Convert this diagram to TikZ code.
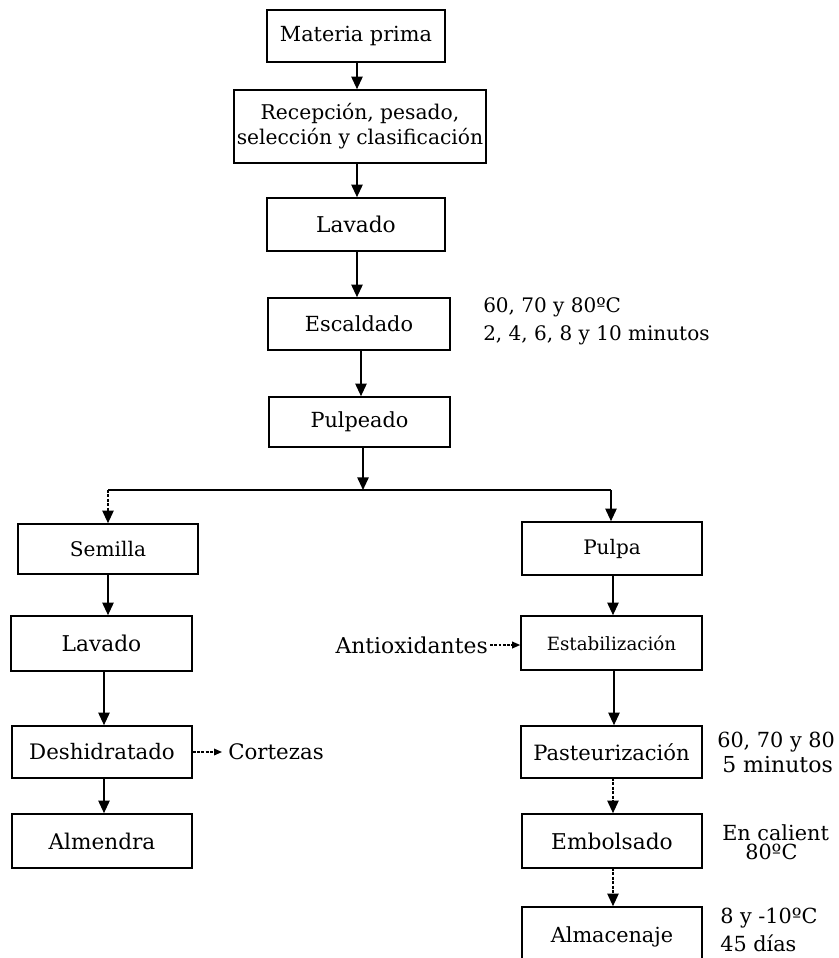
\documentclass[tikz,border=0pt]{standalone}
\usepackage{fontspec}
\setmainfont{DejaVu Serif}
\usetikzlibrary{arrows.meta}
\newcommand{\fs}[1]{\fontsize{#1}{1.2*#1}\selectfont}
\begin{document}
\begin{tikzpicture}[x=0.75pt,y=-0.75pt,
  font=\fontsize{15.6}{19}\selectfont,
  every node/.style={inner sep=0pt},
  stepbox/.style 2 args={draw,line width=1.2pt,minimum width=#1*0.75pt,minimum height=#2*0.75pt,align=center},
  note/.style={anchor=west,align=left},
  arr/.style={line width=1.3pt,-{Triangle[length=9.5pt,width=8.5pt]}},
  darr/.style={line width=1.2pt,dash pattern=on 2.2pt off 1.1pt,-{Triangle[length=9.5pt,width=8.5pt]}},
  sarr/.style={line width=1pt,dash pattern=on 2.2pt off 1pt,-{Triangle[length=6pt,width=5pt]}},
  link/.style={line width=1.3pt}]
\useasboundingbox (0,0) rectangle (839,958);
\clip (0,0) rectangle (839,958);

% main trunk
\node[stepbox={178}{52}] (mp) at (356,36) {Materia prima};
\node[stepbox={252}{73},font=\fontsize{15.2}{18.8}\selectfont] (rec) at (360,126.5) {Recepción, pesado,\\selección y clasificación};
\node[stepbox={178}{53},font=\fontsize{16.3}{19}\selectfont] (lav1) at (356,224.5) {Lavado};
\node[stepbox={182}{52}] (esc) at (359,324) {Escaldado};
\node[stepbox={181}{50}] (pul) at (359.5,422) {Pulpeado};

% seed branch
\node[stepbox={180}{50},font=\fontsize{15.1}{18}\selectfont] (sem) at (108,549) {Semilla};
\node[stepbox={181}{55},font=\fontsize{16.3}{19}\selectfont] (lav2) at (101.5,643.5) {Lavado};
\node[stepbox={180}{52},font=\fontsize{16}{19}\selectfont] (des) at (102,752) {Deshidratado};
\node[stepbox={180}{54},font=\fontsize{16.2}{19}\selectfont] (alm) at (102,841) {Almendra};

% pulp branch
\node[stepbox={180}{53},font=\fontsize{15}{18}\selectfont] (pulpa) at (612,548.5) {Pulpa};
\node[stepbox={181}{54},font=\fontsize{13.7}{17}\selectfont] (est) at (611.5,643) {Estabilización};
\node[stepbox={181}{52},font=\fontsize{15.8}{19}\selectfont] (pas) at (611.5,752) {Pasteurización};
\node[stepbox={180}{54},font=\fontsize{16.3}{19}\selectfont] (emb) at (612,841) {Embolsado};
\node[stepbox={180}{70}] (almac) at (612,942) {};
\node (almact) at (612,937) {Almacenaje};

% side inputs, outputs and conditions
\node[anchor=east,font=\fontsize{16.4}{19}\selectfont] (anti) at (488,645) {Antioxidantes};
\node[note,font=\fontsize{16}{19}\selectfont] (cort) at (228,752) {Cortezas};
\node[note,align=left,font=\fontsize{15}{21}\selectfont] (escn) at (483,321) {60, 70 y 80ºC\\2, 4, 6, 8 y 10 minutos};
\node[note] (pasn1) at (717,742) {60, 70 y 80};
\node[note,font=\fontsize{16.5}{19}\selectfont] (pasn2) at (722,765) {5 minutos};
\node[note] (embn1) at (722,833) {En calient};
\node[note] (embn2) at (745,852) {80ºC};
\node[note] (almn1) at (720,918) {8 y -10ºC};
\node[note] (almn2) at (720,943) {45 días};

% branching point under Pulpeado
\coordinate (split) at (363,490);
\coordinate (splitL) at (108,490);
\coordinate (splitR) at (611,490);

% connectors
\draw[arr] (357,62) coordinate (a0) -- (a0 |- rec.north);
\draw[arr] (357,163) coordinate (a1) -- (a1 |- lav1.north);
\draw[arr] (357,251) coordinate (a2) -- (a2 |- esc.north);
\draw[arr] (361,350) coordinate (a3) -- (a3 |- pul.north);
\draw[arr] (split |- pul.south) -- (split);
\draw[link] (splitL) -- (splitR);
\draw[darr] (splitL) -- (splitL |- sem.north);
\draw[arr] (splitR) -- (splitR |- pulpa.north);

\draw[arr] (108,574) coordinate (b1) -- (b1 |- lav2.north);
\draw[arr] (104,671) coordinate (b2) -- (b2 |- des.north);
\draw[arr] (104,778) coordinate (b3) -- (b3 |- alm.north);
\draw[sarr] (des.east) -- ([xshift=-4.5pt]cort.west);

\draw[arr] (613,575) coordinate (c1) -- (c1 |- est.north);
\draw[arr] (614,670) coordinate (c2) -- (c2 |- pas.north);
\draw[darr] (613,778) coordinate (c3) -- (c3 |- emb.north);
\draw[darr] (613,868) coordinate (c4) -- (c4 |- almac.north);
\draw[sarr] ([xshift=1.5pt]anti.east) -- (anti.east -| est.west);
\end{tikzpicture}
\end{document}
